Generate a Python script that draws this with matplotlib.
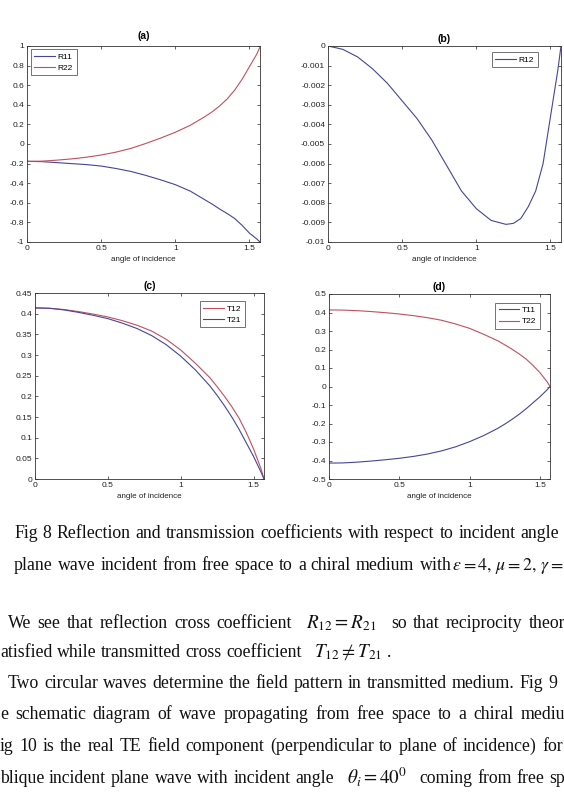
import numpy as np
import matplotlib
matplotlib.use("Agg")
import matplotlib.pyplot as plt

angle = [0, 0.1, 0.2, 0.3, 0.4, 0.5, 0.6, 0.7, 0.8, 0.9, 1.0, 1.1, 1.2,
         1.25, 1.3, 1.35, 1.4, 1.45, 1.5, 1.55, 1.5708]

R11 = [-0.177, -0.18, -0.19, -0.20, -0.21, -0.225, -0.25, -0.28, -0.32, -0.365,
       -0.415, -0.48, -0.57, -0.615, -0.665, -0.71, -0.76, -0.83, -0.91, -0.97, -1.0]
R22 = [-0.177, -0.175, -0.165, -0.152, -0.135, -0.112, -0.083, -0.045, 0.005, 0.06,
       0.12, 0.19, 0.28, 0.33, 0.39, 0.46, 0.55, 0.66, 0.79, 0.92, 0.99]
R12 = [0, -0.00017, -0.00056, -0.00116, -0.0019, -0.0028, -0.0037, -0.0048, -0.0061,
       -0.0074, -0.0083, -0.0089, -0.0091, -0.00905, -0.0088, -0.0082, -0.0074,
       -0.0060, -0.0036, -0.0012, 0]
T12 = [0.414, 0.413, 0.410, 0.405, 0.399, 0.392, 0.383, 0.372, 0.358, 0.338, 0.312,
       0.280, 0.245, 0.223, 0.200, 0.175, 0.147, 0.112, 0.072, 0.025, 0]
T21 = [0.414, 0.413, 0.409, 0.403, 0.396, 0.388, 0.377, 0.364, 0.347, 0.325, 0.297,
       0.264, 0.225, 0.202, 0.177, 0.150, 0.120, 0.087, 0.054, 0.017, 0]
T11 = [-0.414, -0.413, -0.409, -0.403, -0.396, -0.388, -0.378, -0.365, -0.348, -0.326,
       -0.298, -0.265, -0.226, -0.203, -0.178, -0.151, -0.121, -0.088, -0.055, -0.018, 0]
T22 = [0.414, 0.413, 0.410, 0.405, 0.399, 0.392, 0.383, 0.372, 0.358, 0.338, 0.314,
       0.282, 0.247, 0.225, 0.202, 0.177, 0.149, 0.114, 0.074, 0.026, 0]

x_ticks = [0, 0.5, 1, 1.5]
x_labels = ["0", "0.5", "1", "1.5"]

# page text under the figure, only the part that is visible in the scan
page_lines = [
    "Fig 8 Reflection and transmission coefficients with respect to incident angle",
    r"plane wave incident from free space to a chiral medium with$\,\varepsilon=4,\,\mu=2,\,\gamma=$",
    r"We see that reflection cross coefficient $R_{12}=R_{21}$ so that reciprocity theor",
    r"atisfied while transmitted cross coefficient $T_{12}\neq{}T_{21}$ .",
    "Two circular waves determine the field pattern in transmitted medium. Fig 9",
    "e schematic diagram of wave propagating from free space to a chiral mediu",
    "ig 10 is the real TE field component (perpendicular to plane of incidence) for",
    r"blique incident plane wave with incident angle $\theta_i=40^0$ coming from free sp",
]
# (start x, baseline y, justified right end or None) in pixels
line_pos = [(14, 538, 559), (14, 570, 564), (8, 628, 565), (0, 657, None),
            (8, 688, 557), (0, 719, 565), (0, 751, 563), (0, 783, 565)]

BLUE = "#45459a"
RED = "#c0505e"
W, H = 564, 798

plt.rcParams["font.family"] = ["Liberation Sans", "DejaVu Sans"]
plt.rcParams["mathtext.fontset"] = "stix"

fig = plt.figure(figsize=(W / 100, H / 100), dpi=100)


def px_axes(left, top, right, bottom):
    return fig.add_axes([left / W, 1 - bottom / H, (right - left) / W, (bottom - top) / H])


def style(ax, yticks, ylabels, title, title_y):
    ax.set_xlim(0, np.pi / 2)
    ax.set_ylim(yticks[0], yticks[-1])
    ax.set_xticks(x_ticks)
    ax.set_xticklabels(x_labels)
    ax.set_yticks(yticks)
    ax.set_yticklabels(ylabels)
    ax.tick_params(direction="in", top=True, right=True, length=2.5, width=0.5,
                   labelsize=6, pad=2, colors="#222222")
    for s in ax.spines.values():
        s.set_linewidth(0.6)
        s.set_color("#333333")
    ax.set_xlabel("angle of incidence", fontsize=5.8, labelpad=3, color="#222222")
    ax.set_title(title, fontsize=7.5, fontweight="bold", pad=title_y)


def legend(ax, loc, anchor):
    lg = ax.legend(fontsize=6, frameon=True, fancybox=False, handlelength=2.5,
                   borderpad=0.45, labelspacing=0.4, handletextpad=0.3,
                   loc=loc, bbox_to_anchor=anchor, borderaxespad=0)
    lg.get_frame().set_edgecolor("#333333")
    lg.get_frame().set_linewidth(0.6)


# (a)
ax = px_axes(27, 46, 260, 242)
ax.plot(angle, R11, color=BLUE, lw=0.8, label="R11")
ax.plot(angle, R22, color=RED, lw=0.8, label="R22")
yt = [-1, -0.8, -0.6, -0.4, -0.2, 0, 0.2, 0.4, 0.6, 0.8, 1]
style(ax, yt, ["-1", "-0.8", "-0.6", "-0.4", "-0.2", "0", "0.2", "0.4", "0.6", "0.8", "1"],
      "(a)", 5)
legend(ax, "upper left", (0.016, 0.985))

# (b)
ax = px_axes(328, 46, 561, 242)
ax.plot(angle, R12, color=BLUE, lw=0.8, label="R12")
yt = [-0.01, -0.009, -0.008, -0.007, -0.006, -0.005, -0.004, -0.003, -0.002, -0.001, 0]
style(ax, yt, ["-0.01", "-0.009", "-0.008", "-0.007", "-0.006", "-0.005", "-0.004",
               "-0.003", "-0.002", "-0.001", "0"], "(b)", 3)
legend(ax, "upper right", (0.901, 0.969))

# (c)
ax = px_axes(35, 293, 264, 479)
ax.plot(angle, T12, color=RED, lw=0.8, label="T12")
ax.plot(angle, T21, color=BLUE, lw=0.8, label="T21")
yt = [0, 0.05, 0.1, 0.15, 0.2, 0.25, 0.3, 0.35, 0.4, 0.45]
style(ax, yt, ["0", "0.05", "0.1", "0.15", "0.2", "0.25", "0.3", "0.35", "0.4", "0.45"],
      "(c)", 3)
legend(ax, "upper right", (0.917, 0.957))

# (d)
ax = px_axes(329, 294, 550, 479)
ax.plot(angle, T11, color=BLUE, lw=0.8, label="T11")
ax.plot(angle, T22, color=RED, lw=0.8, label="T22")
yt = [-0.5, -0.4, -0.3, -0.2, -0.1, 0, 0.1, 0.2, 0.3, 0.4, 0.5]
style(ax, yt, ["-0.5", "-0.4", "-0.3", "-0.2", "-0.1", "0", "0.1", "0.2", "0.3", "0.4", "0.5"],
      "(d)", 3)
legend(ax, "upper right", (0.955, 0.953))

# justified page text, placed word by word
renderer = fig.canvas.get_renderer()
fsize = 12.8
space = 0.25 * fsize * 100 / 72
for s, (x0, y, x1) in zip(page_lines, line_pos):
    words = s.split(" ")
    texts = [fig.text(0, 1 - y / H, w, color="#111111", va="baseline",
                      fontsize=fsize * (1.08 if w.startswith("$") else 1),
                      family=["Liberation Serif", "DejaVu Serif"]) for w in words]
    widths = [t.get_window_extent(renderer).width for t in texts]
    # formulas sit a little apart from the words around them
    extra = []
    for i, w in enumerate(words):
        if w.startswith("$"):
            extra.append(8)
        elif i > 0 and words[i - 1].startswith("$") and w != ".":
            extra.append(8)
        else:
            extra.append(0)
    if x1 is None:
        gap = space
    else:
        gap = max(2, (x1 - x0 - sum(widths) - sum(extra)) / (len(words) - 1))
    x = x0
    for i, (t, w) in enumerate(zip(texts, widths)):
        if i > 0:
            x += gap + extra[i]
        t.set_x(x / W)
        x += w

fig.savefig("out.png", dpi=100)
